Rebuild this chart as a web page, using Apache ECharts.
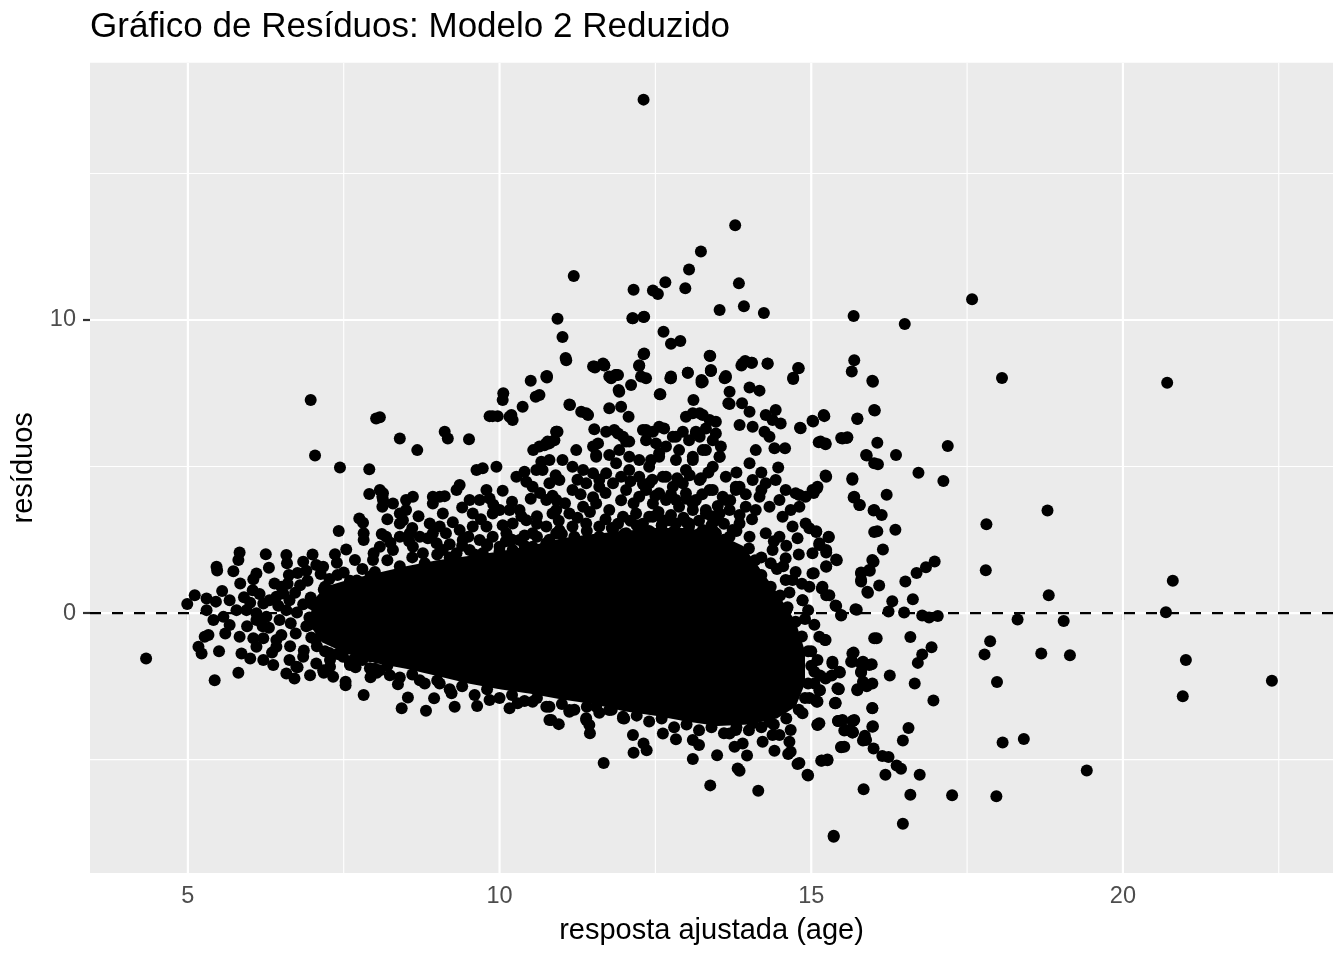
<!DOCTYPE html>
<html>
<head>
<meta charset="utf-8">
<script src="https://cdn.jsdelivr.net/npm/echarts@6/dist/echarts.min.js"></script>
<style>html,body{margin:0;padding:0;background:#fff;}#c{width:1344px;height:960px;}</style>
</head>
<body>
<div id="c"></div>
<script>
// ---- axis extents and tick labels ----
const X_MIN = 3.43, X_MAX = 23.37;
const Y_MIN = -8.87, Y_MAX = 18.78;
const xTickValues = [5, 10, 15, 20];
const yTickValues = [0, 10];
const xMajorGrid = [5, 10, 15, 20];
const xMinorGrid = [7.5, 12.5, 17.5, 22.5];
const yMajorGrid = [0, 10];
const yMinorGrid = [-5, 5, 15];
const refLineY = [0];

// ---- dense (fully overplotted) core of the cloud, outline ----
const corePolygon = [
  [7.0,0.4],[7.2,0.9],[7.6,1.15],[8.0,1.35],[8.5,1.6],[9.0,1.8],[9.5,1.95],[10.0,2.1],[10.5,2.3],
  [11.0,2.55],[11.5,2.7],[12.0,2.8],[12.5,2.9],[13.0,2.9],[13.5,2.7],[13.9,2.3],[14.15,1.6],[14.45,0.7],
  [14.75,-0.3],[14.9,-1.3],[14.9,-2.4],[14.75,-3.2],[14.45,-3.6],[14.0,-3.8],[13.5,-3.85],[13.0,-3.7],
  [12.5,-3.5],[12.0,-3.35],[11.5,-3.1],[11.0,-2.95],[10.5,-2.75],[10.0,-2.6],[9.5,-2.4],[9.0,-2.15],
  [8.5,-1.9],[8.0,-1.7],[7.5,-1.35],[7.15,-1.0],[6.95,-0.4]
];

// ---- points on the ragged edge of the core ----
const rimPoints = [
[7.2,0.9],[7.4,1.3],[7.6,1.1],[7.8,1.5],[8.0,1.4],[8.2,1.8],[8.4,1.6],[8.6,1.9],[8.8,1.7],[9.0,2.0],[9.2,1.9],[9.4,2.3],[9.6,2.0],[9.8,2.3],[10.0,2.1],[10.2,2.5],[10.4,2.3],[10.6,2.6],[10.8,2.5],[11.0,2.7],[11.2,2.6],[11.4,2.8],[11.6,2.6],[11.8,2.9],[12.0,2.7],[12.2,3.0],[12.4,2.8],[12.6,3.0],[12.8,2.8],[13.0,3.1],[13.2,2.7],[13.4,3.0],[13.6,2.5],[13.8,2.8],[14.0,2.2],[14.1,1.8],[14.2,1.3],[14.35,0.9],[14.5,0.6],[14.6,0.1],[14.75,-0.3],[14.85,-0.8],[14.95,-1.3],[15.0,-1.8],[14.95,-2.4],[14.9,-2.9],[14.8,-3.3],[14.6,-3.6],[14.4,-3.8],[14.2,-3.9],[14.0,-4.0],[13.8,-3.9],[13.6,-4.1],[13.4,-3.9],[13.2,-4.0],[13.0,-3.8],[12.8,-3.9],[12.6,-3.6],[12.4,-3.7],[12.2,-3.5],[12.0,-3.6],[11.8,-3.3],[11.6,-3.4],[11.4,-3.2],[11.2,-3.3],[11.0,-3.1],[10.8,-3.2],[10.6,-2.9],[10.4,-3.0],[10.2,-2.8],[10.0,-2.9],[9.8,-2.6],[9.6,-2.8],[9.4,-2.5],[9.2,-2.6],[9.0,-2.3],[8.8,-2.4],[8.6,-2.1],[8.4,-2.2],[8.2,-1.8],[8.0,-1.9],[7.8,-1.6],[7.6,-1.7],[7.4,-1.4],[7.2,-1.3],[7.05,-0.9],[6.95,-0.4],[7.0,0.3]
];

// ---- individual points [fitted, residual] ----
const outlierPoints = [
[12.31,17.52],[13.78,13.23],[13.23,12.34],[13.04,11.72],[13.84,11.25],[12.98,11.08],[12.66,11.29],[12.46,11.01],[12.54,10.89],[12.15,11.03],[11.19,11.5],[13.92,10.47],[14.24,10.24],[13.53,10.34],[15.68,10.14],[12.13,10.06],[12.31,10.1],[10.93,10.04],[11.01,9.42],[11.06,8.7],[12.63,9.6],[12.75,9.19],[12.9,9.28],[12.31,8.83],[12.24,8.43],[13.37,8.78],[13.39,8.27],[13.88,8.45],[14.04,8.54],[13.94,8.6],[14.3,8.51],[14.79,8.36],[15.69,8.63],[15.65,8.24],[11.53,8.38],[11.68,8.45],[10.76,8.09],[11.86,8.12],[12.27,8.07],[12.75,8.07],[13.02,8.2],[13.24,7.95],[13.63,8.09],[14.71,8.03],
[17.58,10.71],[16.5,9.86],[18.06,8.02],[20.71,7.86],[15.99,7.89],[16.02,6.91],[15.74,6.62],[15.21,6.72],[15.03,6.54],[14.83,6.31],[16.06,5.81],[15.48,5.97],[15.57,5.97],[15.12,5.83],[15.23,5.76],[17.19,5.7],[15.89,5.38],[16.36,5.39],[16.07,5.08],[16.72,4.79],[17.12,4.51],[15.24,4.65],[15.66,4.55],[16.21,4.04],[15.68,3.94],[15.78,3.69],[14.81,4.03],[15.09,4.25],[15.04,4.1],[18.79,3.5],[17.81,3.03],[16.0,3.5],[16.13,3.35],[16.06,2.79],[16.35,2.84],[15.28,2.59],[16.15,2.17],[14.97,2.89],[15.08,2.79],[15.13,2.32],[15.24,2.07],[15.41,1.8],[15.24,1.6],[16.0,1.75],[15.94,1.44],[15.8,1.38],[15.8,1.08],[16.09,0.94],[15.91,0.69],[16.98,1.76],[16.84,1.56],[16.69,1.37],[16.51,1.08],[17.8,1.46],[20.8,1.1],[18.81,0.61],[16.63,0.47],[16.3,0.4],[15.04,1.36],[15.17,0.84],[15.29,0.61],[15.39,0.26],[14.86,0.44],[15.73,0.11],[16.24,0.05],[16.49,0.02],[16.78,-0.08],[16.89,-0.15],[17.03,-0.1],[15.48,-0.08],[20.69,0.03],[18.31,-0.22],[19.05,-0.27],[16.05,-0.86],[16.59,-0.82],[15.22,-0.92],[17.87,-0.96],[16.93,-1.17],[16.78,-1.41],[16.71,-1.7],[17.78,-1.41],[18.69,-1.38],[19.15,-1.44],[21.01,-1.6],[15.68,-1.35],[15.64,-1.66],[15.83,-1.66],[15.97,-1.75],[15.8,-2.03],[15.89,-2.5],[15.74,-2.6],[15.34,-1.66],[15.46,-2.03],[15.33,-2.13],[15.14,-2.13],[16.26,-2.13],[16.66,-2.4],[17.98,-2.35],[22.39,-2.31],[20.96,-2.84],[16.96,-2.98],[15.44,-2.59],[15.39,-3.06],[15.1,-3.02],[15.98,-3.24],[15.1,-3.8],[15.43,-3.68],[15.67,-3.68],[15.53,-4.01],[15.67,-4.07],[15.99,-3.86],[16.56,-3.92],[15.86,-4.19],[15.83,-4.35],[16.47,-4.35],[15.48,-4.57],[16.0,-4.62],[18.07,-4.42],[18.41,-4.3],[16.14,-4.88],[16.24,-4.91],[16.37,-5.2],[16.44,-5.31],[15.17,-5.03],[15.26,-5.0],[14.81,-5.12],[14.94,-5.52],[16.19,-5.52],[16.74,-5.52],[19.42,-5.37],[15.84,-6.01],[16.59,-6.2],[17.26,-6.22],[17.97,-6.25],[16.47,-7.19],[15.36,-7.6]
];

const rightPoints = [
[15.98,7.93],[16.01,6.93],[15.74,6.64],[15.5,5.96],[15.58,6.0],[15.2,6.76],[15.02,6.56],[15.15,5.85],[15.23,5.79],[14.82,6.32],[14.8,8.35],[14.71,7.99],[14.3,8.52],[13.9,8.52],[14.05,8.54],[13.38,8.77],[13.39,8.26],[13.02,8.2],[12.74,8.01],[13.24,7.87],[13.11,7.27],[12.58,7.47],[13.63,8.04],[13.69,7.55],[13.69,7.13],[14.01,7.7],[14.17,7.59],[13.89,7.16],[14.01,6.87],[13.85,6.42],[14.27,6.76],[14.43,6.93],[14.51,6.47],[14.38,6.59],[14.06,6.36],[14.25,6.19],[14.33,6.02],[14.41,5.62],[14.58,5.62],[14.11,5.56],[14.01,5.11],[14.47,4.97],[15.23,4.69],[15.66,4.6],[15.69,3.97],[15.77,3.69],[16.01,3.52],[15.88,5.39],[16.01,5.11],[16.01,2.77],[15.98,1.81],[15.93,1.47],[15.8,1.35],[15.8,1.13],[15.9,0.73],[16.01,-0.86],[15.66,-1.38],[15.66,-1.66],[15.8,-1.72],[15.93,-1.77],[15.8,-2.0],[15.83,-2.34],[15.74,-2.63],[15.98,-2.4],[15.34,-1.72],[15.45,-2.0],[15.23,-2.23],[15.13,-2.63],[15.07,-2.97],[15.42,-2.57],[15.39,-3.08],[15.98,-3.25],[15.69,-3.65],[15.5,-3.65],[15.66,-4.05],[15.98,-3.88],[15.88,-4.33],[15.53,-4.56],[15.13,-3.76],[15.71,0.13],[15.48,-0.07],[15.4,0.24],[15.24,0.61],[15.02,1.35],[15.18,0.9],[14.97,0.9],[14.86,0.44],[14.7,1.13],[14.59,1.13],[15.13,-0.81],[15.23,-0.92],[15.13,2.38],[15.24,2.15],[15.4,1.83],[15.28,2.6],[15.08,2.77],[14.91,3.06],[14.78,2.55],[15.02,2.04],[15.24,1.58],[15.02,4.2],[15.1,4.31],[14.91,3.97],[14.81,3.63],[14.67,3.52],[14.54,3.29],[14.7,2.95],[14.49,2.6],[14.27,2.72],[14.38,2.15],[14.59,1.87],[13.85,4.31],[14.06,4.54],[14.27,4.43],[14.43,4.54],[14.59,4.2],[14.75,4.09],[14.17,3.97],[13.95,3.63],[14.11,3.52],[14.33,3.63],[14.49,3.86],
[15.0,-1.3],[15.05,-2.0],[14.97,-2.9],[14.9,-0.2],[14.62,0.2],[14.3,0.9],[14.2,1.9],[14.45,1.5],
[14.55,1.6],[14.75,1.4],[14.85,1.0],[14.65,0.7],[14.95,0.1],[15.05,-0.4],[15.1,-1.6],[15.05,-2.4],[14.35,1.7],[14.8,2.0],[14.6,2.3],[14.4,2.45]
];

const upperPoints = [
[12.35,6.25],[12.56,6.36],[12.78,6.02],[12.99,6.7],[13.21,6.82],[13.37,6.59],[13.47,6.13],[13.15,6.13],[12.88,5.56],[13.31,5.56],[13.53,5.33],[13.1,5.22],[12.56,5.33],[12.4,4.99],[12.67,4.65],[12.94,4.43],[13.21,4.54],[13.37,4.2],[13.58,3.97],[13.79,4.2],[13.69,3.52],[13.53,3.4],[13.31,3.52],[13.1,3.74],[12.83,3.86],[12.56,4.09],[12.35,4.2],[13.74,2.83],[13.42,2.83],[13.04,3.06],[12.72,3.17],[12.46,3.29],[13.85,3.06],[14.01,2.6],
[10.75,8.07],[11.07,8.63],[11.52,8.41],[11.68,8.46],[11.79,8.01],[11.9,8.12],[11.92,7.55],[12.11,7.78],[12.24,8.46],[12.35,8.01],[12.75,8.01],[13.26,7.89],[13.39,8.29],[13.61,8.01],[13.67,7.16],[12.57,7.47],[10.64,7.44],[11.12,7.12],[11.31,6.87],[11.39,6.82],[11.76,6.99],[11.95,7.04],[12.07,6.7],[11.52,6.27],[11.71,6.19],[11.84,6.25],[11.98,6.02],[12.08,5.85],[12.3,6.25],[12.46,6.19],[12.64,6.3],[12.83,6.02],[12.94,6.19],[13.1,6.82],[13.26,6.76],[13.47,6.53],[13.31,6.3],[13.15,6.19],[13.04,5.9],[13.21,6.02],[13.42,5.9],[13.55,5.68],[13.53,5.33],[13.42,4.99],[13.26,5.56],[13.1,5.33],[12.83,5.22],[12.67,5.68],[12.51,5.79],[12.35,5.9],[10.91,6.19],[10.77,5.85],[10.64,5.68],[11.23,5.56],[11.5,5.68],[11.55,5.33],[11.76,5.39],[11.92,5.56],[12.08,5.33],[12.24,5.22],[12.43,5.22],[12.56,5.45],[12.99,4.88],[13.23,4.6],[13.42,4.2],[13.63,3.86],[13.79,4.31],[13.63,4.65],[13.47,3.17],[13.31,3.4],[13.15,3.86],[12.99,4.09],[12.78,4.31],[12.62,4.65],[12.4,4.43],[12.24,4.65],[12.08,4.88],[11.87,5.11],[11.71,4.77],[11.5,4.77],[11.34,4.88],[11.17,4.99],[11.01,5.22],[10.8,5.22],[10.69,4.88],[10.96,4.54],[11.17,4.2],[11.39,4.43],[11.6,4.31],[11.82,4.43],[12.03,4.2],[12.24,3.97],[12.46,3.74],[12.67,3.86],[12.88,3.63],[13.1,3.52],[10.75,3.86],[10.91,3.52],[11.12,3.4],[11.34,3.63],[11.55,3.74],[11.76,3.52],[11.98,3.29],[12.19,3.4],[12.4,3.29],[12.62,3.17],[12.83,3.06],[13.04,2.95],[13.26,2.83],[13.47,2.72],[13.69,2.6],[10.75,2.95],[10.96,2.83],[11.17,2.95],[11.39,3.06],[11.6,2.95],[11.82,2.83],[12.03,2.72],[12.24,2.83],[12.46,2.72],[12.67,2.6],[12.88,2.49],
[10.6,3.3],[10.95,3.15],[11.25,3.25],[11.45,3.45],[11.7,3.2],[11.9,3.05],[12.1,3.15],[12.3,3.05],[12.55,3.45],[12.75,3.35],[12.95,3.25],[13.2,3.15],[13.4,3.3],[13.6,3.05],[13.85,3.35],[14.05,3.2],
[10.65,4.1],[10.85,4.0],[11.05,3.75],[11.3,4.05],[11.5,3.95],[11.7,4.1],[11.95,3.85],[12.15,3.75],[12.3,4.4],[12.5,4.0],[12.75,4.05],[13.0,3.9],[13.25,4.05],[13.5,3.65],[13.7,3.85],[13.95,4.05],[14.2,4.2],
[10.9,4.7],[11.25,4.55],[11.6,4.55],[11.95,4.65],[12.1,4.5],[12.45,4.55],[12.85,4.6],[13.05,4.7],[13.35,4.8],[13.8,4.8],[14.2,4.8]
];

const leftUpperPoints = [
[8.4,5.96],[8.68,5.56],[9.12,6.19],[9.17,5.96],[9.51,5.93],[10.05,7.27],[9.84,6.72],[9.97,6.72],[10.19,6.76],[10.21,6.59],[10.37,7.04],[10.54,5.56],[10.75,5.79],[10.88,5.9],[10.91,6.19],[10.67,5.16],[10.59,4.88],[9.63,4.88],[9.73,4.94],[9.95,4.99],[10.27,4.65],[10.4,4.82],[10.43,4.48],[10.53,4.31],[10.8,4.43],[10.91,3.86],[10.05,4.17],[9.79,4.2],[9.84,3.91],[9.36,4.37],[9.31,4.2],[9.52,3.86],[9.68,3.86],[9.04,3.97],[8.93,3.97],[9.12,3.99],[8.61,3.97],[8.5,3.86],[8.13,4.09],[8.13,3.86],[8.29,3.74],[8.4,3.4],[8.45,3.17],[8.5,3.52],[8.4,3.06],[8.93,3.74],[9.09,3.4],[9.04,2.95],[8.88,3.06],[8.93,2.72],[9.57,3.4],[9.57,2.95],[9.36,2.83],[9.41,2.49],[9.68,2.49],[9.79,2.95],[9.89,3.4],[10.0,3.52],[10.16,3.52],[10.32,3.52],[10.43,3.17],[10.21,3.06],[10.11,2.72],[9.89,2.6],[10.0,2.26],[10.21,2.15],[10.32,2.49],[10.53,2.72],[10.85,3.4],[10.91,2.72],[10.75,2.38],[10.53,2.26],[10.43,1.92],[9.14,2.72],[8.99,2.38],[8.72,2.6],[8.56,2.72],[8.4,2.6],[8.18,2.6],[8.08,2.26],[8.29,2.15],[8.61,2.26],[8.77,2.04],[9.09,2.15],[9.31,2.04],[9.52,2.15],[9.73,2.04],
[10.5,7.93],[10.76,8.04],[10.06,7.5],[10.58,7.38],[10.16,6.7],[9.89,6.72],[11.13,7.1],[11.42,6.76],[11.58,5.79],[11.55,5.39],[11.9,6.13],[12.03,5.85],[10.93,6.19],[10.8,5.79],[10.72,5.73],[8.08,6.68],[11.5,8.41],[11.66,8.52],[11.76,8.07],[11.87,8.12],[11.91,7.61],[12.32,8.86],[12.14,10.06],[12.32,10.11],
[8.25,2.4],[8.55,2.45],[8.85,2.55],[9.2,2.35],[9.5,2.6],[9.8,2.35],[10.1,2.45],[10.4,2.65],[8.7,3.3],[9.25,3.1],[9.7,3.2],[10.05,3.0],[10.35,3.3],[10.6,3.05],[8.2,3.2],[8.6,2.9],[9.4,3.6],[10.2,3.8],[10.5,3.9],[9.9,3.7]
];

const leftPoints = [
[6.97,7.27],[8.02,6.64],[7.04,5.38],[7.44,4.97],[7.91,4.91],[7.91,4.06],[8.08,4.2],[8.12,3.97],[8.12,3.63],[7.75,3.23],[7.81,3.08],[7.42,2.8],[7.82,2.72],[7.82,2.49],[8.11,2.7],[7.36,2.01],[7.54,2.17],[7.68,1.81],[7.39,1.72],[7.98,2.04],[7.97,1.81],[5.83,2.07],[5.81,1.81],[6.25,2.01],[6.58,1.98],[6.59,1.7],[5.46,1.58],[5.47,1.45],[5.73,1.43],[6.1,1.35],[6.05,1.15],[5.84,1.01],[6.04,0.78],[6.39,1.01],[6.62,1.3],[6.9,1.44],[7.06,1.64],[7.17,1.58],[5.11,0.61],[4.99,0.31],[5.3,0.5],[5.45,0.39],[5.3,0.1],[5.41,-0.24],[5.57,-0.13],[5.67,-0.41],[5.67,0.44],[5.9,0.54],[5.78,0.1],[5.94,0.1],[6.1,-0.01],[6.21,0.33],[6.31,0.44],[6.42,0.56],[6.53,0.67],[6.63,0.44],[6.58,0.1],[6.47,-0.24],[6.26,-0.13],[6.1,-0.24],[5.33,-0.75],[5.27,-0.81],[5.17,-1.15],[5.22,-1.38],[4.33,-1.55],[5.83,-0.81],[5.86,-1.38],[5.81,-2.04],[5.43,-2.29],[6.05,-0.86],[6.21,-0.86],[6.42,-0.92],[6.1,-1.15],[6.21,-1.6],[6.37,-1.77],[6.42,-1.15],[6.58,-2.06],[6.71,-2.23],[6.96,-2.12],[7.17,-1.95],[7.33,-2.17],[7.53,-2.34],[7.53,-2.46],[7.82,-2.8],[7.93,-2.19],[8.08,-1.95],[6.63,-1.6],[6.74,-1.83],[6.85,-1.49],[7.06,-1.72],[7.28,-1.83],[7.49,-1.49],[7.65,-1.6],
[6.76,1.37],[6.92,1.1],[7.13,1.33],[7.27,1.16],[7.5,1.38],[7.71,1.11],[7.93,1.26],[8.14,1.1],[6.72,0.69],[6.97,0.53],[7.18,0.8],[7.36,0.65],[7.62,0.76],[7.83,0.58],[8.03,0.66],[6.75,0.02],[6.95,-0.15],[7.16,0.12],[7.39,-0.03],[7.61,0.12],[7.8,0.02],[8.04,-0.11],[6.73,-0.7],[6.98,-0.83],[7.18,-0.56],[7.37,-0.71],[7.62,-0.79],[7.8,-0.67],[8.03,-0.83],[6.64,-1.13],[6.86,-1.28],[7.07,-1.13],[7.27,-1.36],[7.5,-1.24],[7.71,-1.4],[7.93,-1.47],[8.12,-1.36],[6.76,-1.85],[7.18,-2.04],[7.69,-1.85],[8.03,-2.04],
[6.3,-0.5],[6.5,0.9],[5.95,-0.45],[6.15,0.65],[7.28,-1.6],[7.6,-1.77],[7.92,-1.88],[8.24,-2.12],
[6.45,0.25],[6.65,-0.35],[6.85,0.3],[6.5,-0.75],[6.9,-0.45],[6.35,-1.35],[6.6,1.0],[6.8,0.95],[6.2,-0.45],[6.0,0.35],[5.55,0.75],[5.6,-0.7],[5.5,-1.3],[6.0,-1.55],[6.3,1.55],[6.85,1.75],[7.0,2.0]
];

const lowerPoints = [
[8.37,-2.43],[8.53,-2.88],[8.43,-3.25],[8.82,-3.33],[8.95,-2.91],[8.72,-2.29],[9.28,-3.2],[9.23,-2.74],[9.64,-3.17],[9.04,-2.4],[9.84,-2.97],[10.16,-3.25],[10.29,-3.08],[10.53,-3.03],[10.83,-3.65],[10.95,-3.79],[10.75,-3.2],[11.12,-3.31],[11.39,-3.59],[11.44,-3.82],[11.45,-4.1],[11.55,-3.2],[11.76,-3.31],[11.98,-3.59],[12.14,-4.16],[12.15,-4.77],[11.67,-5.12],[12.31,-4.45],[12.36,-4.68],[13.1,-4.98],[13.38,-5.88],[13.49,-4.85],[13.82,-5.3],[13.85,-5.38],[13.97,-4.86],[14.15,-6.06],[13.77,-4.56],[13.9,-4.45],[14.41,-4.7],[14.63,-4.81],[14.78,-5.15],[14.95,-5.54],[15.36,-7.63],[15.16,-5.04],[15.26,-5.02],[15.1,-3.82],[15.48,-4.58],[15.43,-3.68],[15.56,-3.99],[15.66,-4.08],[15.66,-3.68],[15.38,-3.08],[15.44,-2.6],[15.09,-3.03],[15.14,-2.63],[12.83,-4.31],[13.1,-4.33],[13.2,-4.5],[12.62,-4.11],[13.69,-4.11],[13.79,-3.99],[14.22,-4.39],[14.38,-4.16],[14.65,-4.39],[14.67,-4.73],[14.67,-3.99],[11.39,-3.65],[10.8,-3.65],[11.12,-3.37],[11.98,-3.54],[14.06,-3.76],[14.33,-3.71],[14.49,-4.16],[14.86,-3.42]
];

const allPoints = [].concat(rimPoints, outlierPoints, rightPoints, upperPoints, leftUpperPoints, leftPoints, lowerPoints);

const FONT = '"Liberation Sans", Arial, Helvetica, sans-serif';

function gridSeries(values, vertical, width) {
  return {
    type: 'custom', z: 1, silent: true, clip: true,
    data: values.map(v => vertical ? [v, 0] : [X_MIN, v]),
    encode: { x: 0, y: 1 },
    renderItem: function (params, api) {
      const v = vertical ? api.value(0) : api.value(1);
      const a = vertical ? api.coord([v, Y_MIN]) : api.coord([X_MIN, v]);
      const b = vertical ? api.coord([v, Y_MAX]) : api.coord([X_MAX, v]);
      return { type: 'line', shape: { x1: a[0], y1: a[1], x2: b[0], y2: b[1] },
               style: { stroke: '#FFFFFF', lineWidth: width } };
    }
  };
}

const chart = echarts.init(document.getElementById('c'), null, { renderer: 'canvas' });
chart.setOption({
  animation: false,
  backgroundColor: '#FFFFFF',
  title: {
    text: 'Gráfico de Resíduos: Modelo 2 Reduzido',
    left: 90, top: 10, padding: 0,
    textStyle: { fontFamily: FONT, fontSize: 35, fontWeight: 'normal', color: '#000000' }
  },
  grid: { left: 90, right: 11, top: 62.7, bottom: 87, show: true, backgroundColor: '#EBEBEB', borderWidth: 0, containLabel: false },
  xAxis: {
    type: 'value', min: X_MIN, max: X_MAX,
    axisLine: { show: false },
    axisTick: { show: true, customValues: xTickValues, length: 7, lineStyle: { color: '#333333', width: 2.2 } },
    axisLabel: { customValues: xTickValues, color: '#4D4D4D', fontSize: 23.5, fontFamily: FONT, margin: 12 },
    splitLine: { show: false },
    name: 'resposta ajustada (age)', nameLocation: 'middle', nameGap: 43,
    nameTextStyle: { fontFamily: FONT, fontSize: 29, color: '#000000' }
  },
  yAxis: {
    type: 'value', min: Y_MIN, max: Y_MAX,
    axisLine: { show: false },
    axisTick: { show: true, customValues: yTickValues, length: 7, lineStyle: { color: '#333333', width: 2.2 } },
    axisLabel: { customValues: yTickValues, color: '#4D4D4D', fontSize: 23.5, fontFamily: FONT, margin: 14 },
    splitLine: { show: false },
    name: 'resíduos', nameLocation: 'middle', nameGap: 47, nameRotate: 90,
    nameTextStyle: { fontFamily: FONT, fontSize: 29, color: '#000000' }
  },
  series: [
    gridSeries(xMinorGrid, true, 1.1),
    gridSeries(yMinorGrid, false, 1.1),
    gridSeries(xMajorGrid, true, 2.2),
    gridSeries(yMajorGrid, false, 2.2),
    {
      type: 'custom', z: 2, silent: true, clip: true,
      data: corePolygon, encode: { x: 0, y: 1 },
      renderItem: function (params, api) {
        if (params.dataIndex !== 0) return null;
        const pts = corePolygon.map(p => api.coord(p));
        return { type: 'polygon', shape: { points: pts }, style: { fill: '#000000' } };
      }
    },
    {
      type: 'scatter', z: 3, silent: true,
      symbol: 'circle', symbolSize: 12,
      itemStyle: { color: '#000000', opacity: 1 },
      data: allPoints
    },
    {
      type: 'custom', z: 4, silent: true, clip: true,
      data: refLineY.map(v => [X_MIN, v]), encode: { x: 0, y: 1 },
      renderItem: function (params, api) {
        const v = api.value(1);
        const a = api.coord([X_MIN, v]);
        const b = api.coord([X_MAX, v]);
        return { type: 'line', shape: { x1: a[0], y1: a[1], x2: b[0], y2: b[1] },
                 style: { stroke: '#000000', lineWidth: 2.3, lineDash: [11, 11] } };
      }
    }
  ]
});
</script>
</body>
</html>
